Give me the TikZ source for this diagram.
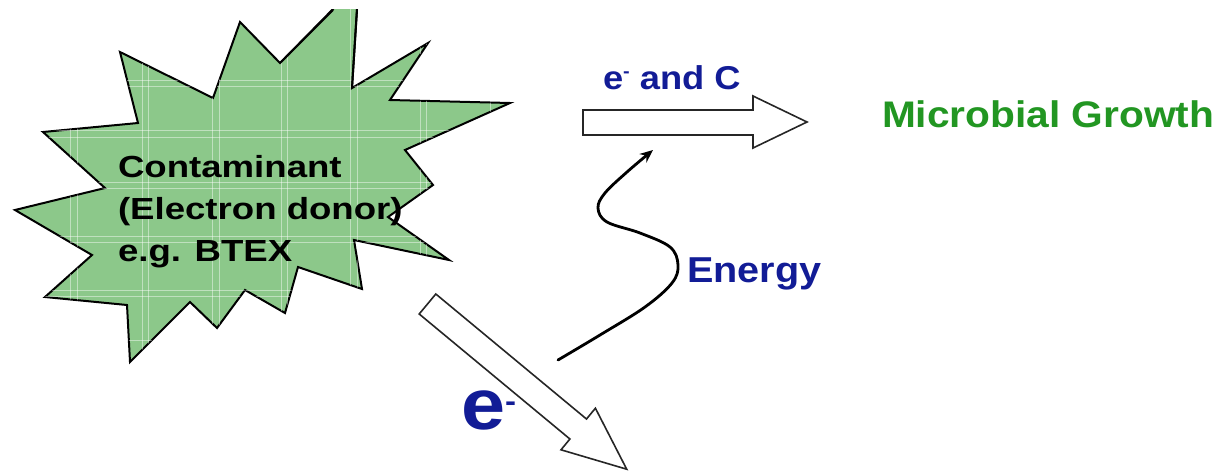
\documentclass[tikz,border=0pt]{standalone}
\usepackage{fontspec}
\setmainfont{Liberation Sans}[FakeStretch=1.1]
\newfontfamily\widefont{Liberation Sans}[FakeStretch=1.2]
\usetikzlibrary{arrows.meta}
\definecolor{burst}{RGB}{140,200,138}
\definecolor{navy}{RGB}{18,28,150}
\definecolor{growth}{RGB}{34,150,34}
\tikzset{
  lbl/.style={inner sep=0pt, outer sep=0pt},
  blockarrow/.style={draw=black!85, line width=1.6pt, fill=white, line join=miter},
  burstshape/.style={draw=black, line width=2pt, fill=burst, line join=miter},
  plaid/.style={white, opacity=0.45, line width=0.9pt},
  energyline/.style={line width=2.8pt, line cap=round, -{Stealth[length=13pt,width=11pt]}}
}
\begin{document}
\begin{tikzpicture}[x=1pt,y=-1pt]
\useasboundingbox (0,0) rectangle (1222,472);
% starburst
\begin{scope}
\clip (0,9) rectangle (1222,472);
\path[burstshape] (358.6,-17) -- (352,88) -- (428,43) -- (390,100) -- (510,103) -- (405,150)
  -- (433,185) -- (388,217) -- (449,260) -- (354,240) -- (362,289) -- (298,267)
  -- (285,313) -- (245,290) -- (217,328) -- (190,302) -- (130,362) -- (127,305)
  -- (45,297) -- (92,255) -- (15,210) -- (105,188) -- (43,132) -- (138,123)
  -- (120,52) -- (213,98) -- (240,22) -- (280,63) -- cycle;
\clip (358.6,-17) -- (352,88) -- (428,43) -- (390,100) -- (510,103) -- (405,150)
  -- (433,185) -- (388,217) -- (449,260) -- (354,240) -- (362,289) -- (298,267)
  -- (285,313) -- (245,290) -- (217,328) -- (190,302) -- (130,362) -- (127,305)
  -- (45,297) -- (92,255) -- (15,210) -- (105,188) -- (43,132) -- (138,123)
  -- (120,52) -- (213,98) -- (240,22) -- (280,63) -- cycle;
\foreach \xx in {70,77,142,148,212,219,281,287,350,357,420,426,490}
  \draw[plaid] (\xx,0) -- (\xx,400);
\foreach \yy in {80,86,130,137,182,188,236,242,290,296,340}
  \draw[plaid] (0,\yy) -- (520,\yy);
\end{scope}
\draw[line width=2pt] (333,9.9) -- (280,63);
\draw[line width=2pt] (357,9.9) -- (352,88);

\node[lbl, anchor=north west, align=left, font=\widefont\bfseries\fontsize{30.5}{42}\selectfont] (cont) at (118,155)
  {Contaminant\\(Electron donor)\\e.g. BTEX};

% horizontal block arrow
\path[blockarrow] (583,110) -- (753,110) -- (753,96) -- (807,122) -- (753,148) -- (753,135) -- (583,135) -- cycle;
% diagonal block arrow
\path[blockarrow] (435.8,294) -- (586.5,419) -- (595.4,408.2) -- (626.7,469.2) -- (561,449.8) -- (569.9,439) -- (419.2,314) -- cycle;

% labels
\node[lbl, anchor=base west, text=navy, font=\bfseries\fontsize{33}{33}\selectfont] (eandc) at (603,89)
  {e\raisebox{12pt}{\fontsize{18}{18}\selectfont -} and C};
\node[lbl, anchor=base west, text=growth, font=\bfseries\fontsize{37}{37}\selectfont] (growthlbl) at (882,127)
  {Microbial Growth};
\node[lbl, anchor=base west, text=navy, font=\bfseries\fontsize{36}{36}\selectfont] (energy) at (687,282)
  {Energy};
\node[lbl, anchor=base west, text=navy, font=\bfseries\fontsize{72}{72}\selectfont] (ebig) at (461,429)
  {e\raisebox{18pt}{\fontsize{30}{30}\selectfont -}};

% energy curve
\coordinate (cstart) at (558,360);
\coordinate (cend) at (653,150);
\draw[energyline] plot[smooth, tension=0.6] coordinates {(558,360) (600,335) (645,307) (672,283) (678,265) (670,247) (640,233) (607,222) (598,208) (605,193) (627,172) (653,150)};
\end{tikzpicture}
\end{document}
